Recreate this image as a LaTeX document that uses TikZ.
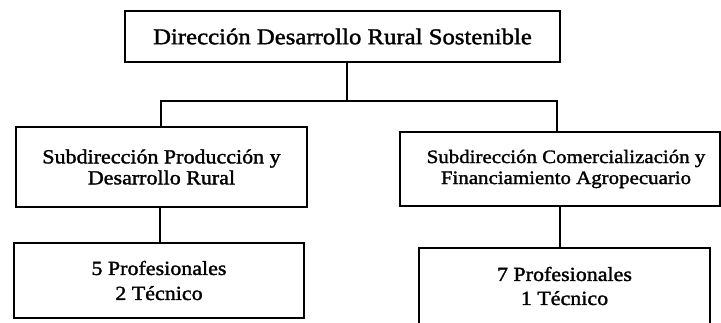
\documentclass[tikz,border=0pt]{standalone}
\usepackage{fontspec}
\setmainfont[FakeStretch=1.1,FakeBold=1.6]{Liberation Serif}
\begin{document}
\begin{tikzpicture}[x=1pt,y=-1pt,
  box/.style={draw,line width=1.6pt,inner sep=0pt,align=center,font=\fontsize{20}{21}\selectfont},
  link/.style={line width=1.6pt}]
\useasboundingbox (0,0) rectangle (721,322);
\clip (0,0) rectangle (721,322);
\node[box,minimum width=435pt,minimum height=51pt,font=\fontsize{22.5}{23}\selectfont] (top) at (342.5,36.5) {Dirección Desarrollo Rural Sostenible};
\node[box,minimum width=291pt,minimum height=80pt] (left) at (161.5,167) {Subdirección Producción y\\Desarrollo Rural};
\node[box,minimum width=320pt,minimum height=74pt,font=\fontsize{19}{21}\selectfont] (right) at (560,169) {\hspace*{12pt}Subdirección Comercialización y\\\hspace*{12pt}Financiamiento Agropecuario};
\node[box,minimum width=290pt,minimum height=75pt,font=\fontsize{20}{25}\selectfont] (lowL) at (159,280.5) {5 Profesionales\\2 Técnico};
\node[box,minimum width=291pt,minimum height=76pt,font=\fontsize{20}{24}\selectfont] (lowR) at (564.5,286) {7 Profesionales\\1 Técnico};
\coordinate (bar) at (347,101);
\coordinate (bl) at (161,101);
\coordinate (br) at (557,101);
\draw[link] (top.south -| bar) -- (bar);
\draw[link] (bl |- left.north) -- (bl) -- (br) -- (br |- right.north);
\draw[link] (left.south -| 160,0) -- (lowL.north -| 160,0);
\draw[link] (right.south -| 560,0) -- (lowR.north -| 560,0);
\end{tikzpicture}
\end{document}
